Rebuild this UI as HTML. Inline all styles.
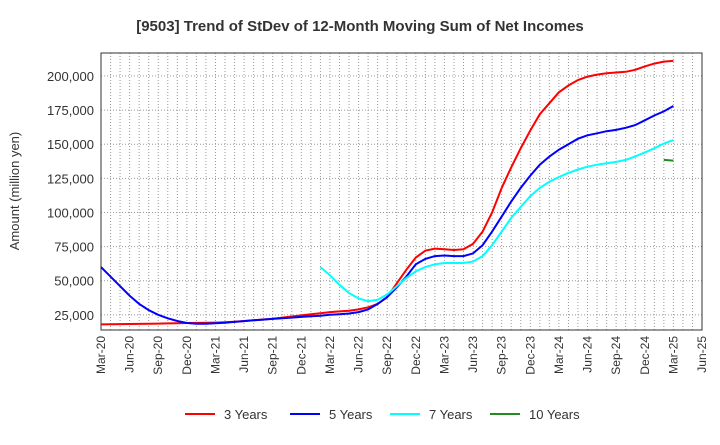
<!DOCTYPE html>
<html><head><meta charset="utf-8"><style>
body{margin:0;background:#fff;font-family:"Liberation Sans",Arial,sans-serif}
svg text{font-family:"Liberation Sans",Arial,sans-serif}
</style></head><body>
<svg id="c" width="720" height="440"></svg>
<script>
const tickLabels=['Mar-20','Jun-20','Sep-20','Dec-20','Mar-21','Jun-21','Sep-21','Dec-21','Mar-22','Jun-22','Sep-22','Dec-22','Mar-23','Jun-23','Sep-23','Dec-23','Mar-24','Jun-24','Sep-24','Dec-24','Mar-25','Jun-25'];
const yTicks=[25000,50000,75000,100000,125000,150000,175000,200000];
const s3=[18000,18100,18200,18300,18400,18500,18600,18700,18800,19000,19100,19200,
19300,19600,20000,20500,21000,21600,22200,23000,23800,24600,25400,26200,
27000,27500,28000,29000,30500,33000,38000,48000,58000,67000,72000,73500,
73000,72500,73000,77000,86000,100000,118000,133000,147000,160000,172000,180000,
188000,193000,197000,199500,201000,202000,202500,203000,204500,207000,209000,210500,
211000];
const s5=[60000,53000,46000,39000,33000,28500,25000,22500,20500,19000,18500,18500,
18800,19200,19800,20400,21000,21500,22000,22500,23000,23500,24000,24300,
25000,25500,26000,27000,29000,33000,38000,45000,53000,62000,66000,68000,
68500,68000,68000,70000,76000,86000,97000,108000,118000,127000,135000,141000,
146000,150000,154000,156500,158000,159500,160500,162000,164000,167500,171000,174000,
178000];
const s7=[null,null,null,null,null,null,null,null,null,null,null,null,
null,null,null,null,null,null,null,null,null,null,null,60000,
54000,47000,41000,37000,35000,36000,40000,46000,52000,57000,60000,62000,
63000,63000,63000,64000,68000,76000,86000,96000,104000,112000,118000,122500,
126000,129000,131500,133500,135000,136000,137000,138500,141000,144000,147000,150500,
153000];
const s10=[null,null,null,null,null,null,null,null,null,null,null,null,
null,null,null,null,null,null,null,null,null,null,null,null,
null,null,null,null,null,null,null,null,null,null,null,null,
null,null,null,null,null,null,null,null,null,null,null,null,
null,null,null,null,null,null,null,null,null,null,null,138500,
138000];
const series=[{n:'3 Years',c:'#f00',d:s3},{n:'5 Years',c:'#00f',d:s5},{n:'7 Years',c:'#0ff',d:s7},{n:'10 Years',c:'#228b22',d:s10}];
const L=101,R=702,T=53,B=330,ymin=13900,ymax=216800;
const X=i=>L+(R-L)*i/63, Y=v=>B-(B-T)*(v-ymin)/(ymax-ymin);
const svg=document.getElementById('c'),NS='http://www.w3.org/2000/svg';
function el(t,a,p){const e=document.createElementNS(NS,t);for(const k in a)e.setAttribute(k,a[k]);(p||svg).appendChild(e);return e;}
let t=el('text',{x:360,y:31,'text-anchor':'middle','font-size':15,'font-weight':'bold',fill:'#333'});t.textContent='[9503]  Trend of StDev of 12-Month Moving Sum of Net Incomes';

for(let i=1;i<63;i++){const g=el('line',{x1:X(i),x2:X(i),y1:T,y2:B,stroke:'#999','stroke-dasharray':'1,2','stroke-width':1});
}
yTicks.forEach(v=>{const g=el('line',{x1:L,x2:R,y1:Y(v),y2:Y(v),stroke:'#999','stroke-dasharray':'1,2'});

const tx=el('text',{x:L-7,y:Y(v)+5,'text-anchor':'end','font-size':13,fill:'#333'});tx.textContent=v.toLocaleString('en-US');
});
tickLabels.forEach((lb,k)=>{const x=X(k*3);const tx=el('text',{transform:`translate(${x+4},${B+6}) rotate(-90)`,'text-anchor':'end','font-size':12,fill:'#333'});tx.textContent=lb;
});
const fr=el('rect',{x:L,y:T,width:R-L,height:B-T,fill:'none',stroke:'#333','stroke-width':1});

const yt=el('text',{transform:'translate(19,191) rotate(-90)','text-anchor':'middle','font-size':13,fill:'#333'});yt.textContent='Amount (million yen)';

series.forEach((s,k)=>{let d='',pen=false;s.d.forEach((v,i)=>{if(v==null){pen=false;return;}d+=(pen?'L':'M')+X(i).toFixed(1)+','+Y(v).toFixed(1);pen=true;});
const p=el('path',{d,fill:'none',stroke:s.c,'stroke-width':2});


const lx=[185,290,390,490][k];
const ll=el('line',{x1:lx,x2:lx+30,y1:414,y2:414,stroke:s.c,'stroke-width':2});


const lt=el('text',{x:lx+39,y:419,'font-size':13,fill:'#333'});lt.textContent=s.n;

});
</script>
</body></html>
